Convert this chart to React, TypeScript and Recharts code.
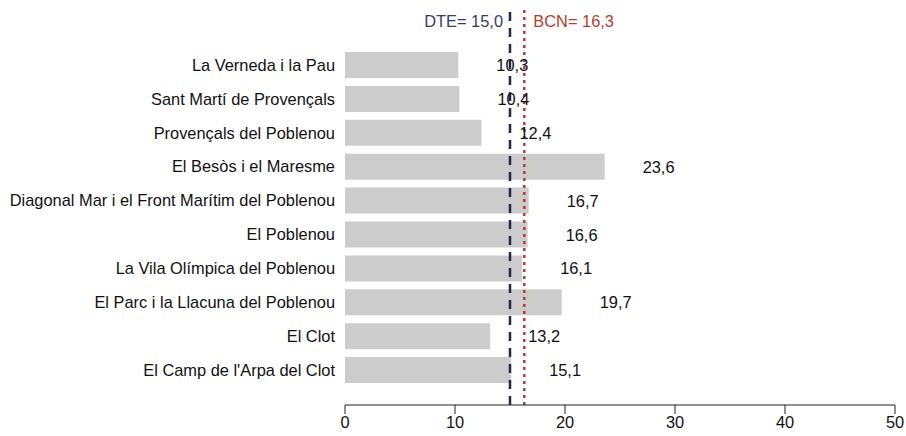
import { BarChart, Bar, XAxis, YAxis, ReferenceLine, LabelList } from "recharts";

const barrios = [
  "La Verneda i la Pau",
  "Sant Martí de Provençals",
  "Provençals del Poblenou",
  "El Besòs i el Maresme",
  "Diagonal Mar i el Front Marítim del Poblenou",
  "El Poblenou",
  "La Vila Olímpica del Poblenou",
  "El Parc i la Llacuna del Poblenou",
  "El Clot",
  "El Camp de l'Arpa del Clot",
];

const valores = [10.3, 10.4, 12.4, 23.6, 16.7, 16.6, 16.1, 19.7, 13.2, 15.1];

const xTicks = [0, 10, 20, 30, 40, 50];

const DTE = 15.0;
const BCN = 16.3;

const FONT = "'Liberation Sans', Arial, sans-serif";
const FS = 16.4;

const fmt = (v: number) => v.toFixed(1).replace(".", ",");

const data = barrios.map((name, i) => ({ name, value: valores[i] }));

const ValueLabel = (props: any) => {
  const { x, y, width, height, value } = props;
  return (
    <text
      x={x + width + 54}
      y={y + height / 2}
      textAnchor="middle"
      dominantBaseline="central"
      fontSize={FS}
      fontFamily={FONT}
      fill="#111"
    >
      {fmt(value)}
    </text>
  );
};

export default function App() {
  return (
    <div style={{ position: "absolute", left: 0, top: 0, background: "#fff" }}>
      <BarChart
        width={906}
        height={436}
        data={data}
        layout="vertical"
        margin={{ top: 8, right: 11, left: 0, bottom: 0 }}
        barSize={26}
      >
        <XAxis
          type="number"
          domain={[0, 50]}
          ticks={xTicks}
          interval={0}
          height={31}
          stroke="#222"
          tickSize={9}
          tickMargin={2}
          tick={{ fontSize: FS, fontFamily: FONT, fill: "#111" }}
        />
        <YAxis
          type="category"
          dataKey="name"
          width={345}
          axisLine={false}
          tickLine={false}
          tickSize={0}
          tickMargin={10}
          interval={0}
          padding={{ top: 40, bottom: 18 }}
          tick={{ fontSize: FS, fontFamily: FONT, fill: "#111" }}
        />
        <Bar dataKey="value" fill="#cccccc" isAnimationActive={false}>
          <LabelList dataKey="value" content={ValueLabel} />
        </Bar>
        <ReferenceLine
          x={DTE}
          stroke="#25254f"
          strokeWidth={2.5}
          strokeDasharray="9 7"
          label={(p: any) => (
            <text
              x={p.viewBox.x - 7}
              y={p.viewBox.y + 13}
              textAnchor="end"
              dominantBaseline="central"
              fontSize={FS}
              fontFamily={FONT}
              fill="#3a3a6a"
            >
              {"DTE= " + fmt(DTE)}
            </text>
          )}
        />
        <ReferenceLine
          x={BCN}
          stroke="#b3402e"
          strokeWidth={2.5}
          strokeDasharray="3 4"
          label={(p: any) => (
            <text
              x={p.viewBox.x + 9}
              y={p.viewBox.y + 13}
              textAnchor="start"
              dominantBaseline="central"
              fontSize={FS}
              fontFamily={FONT}
              fill="#b3402e"
            >
              {"BCN= " + fmt(BCN)}
            </text>
          )}
        />
      </BarChart>
    </div>
  );
}
